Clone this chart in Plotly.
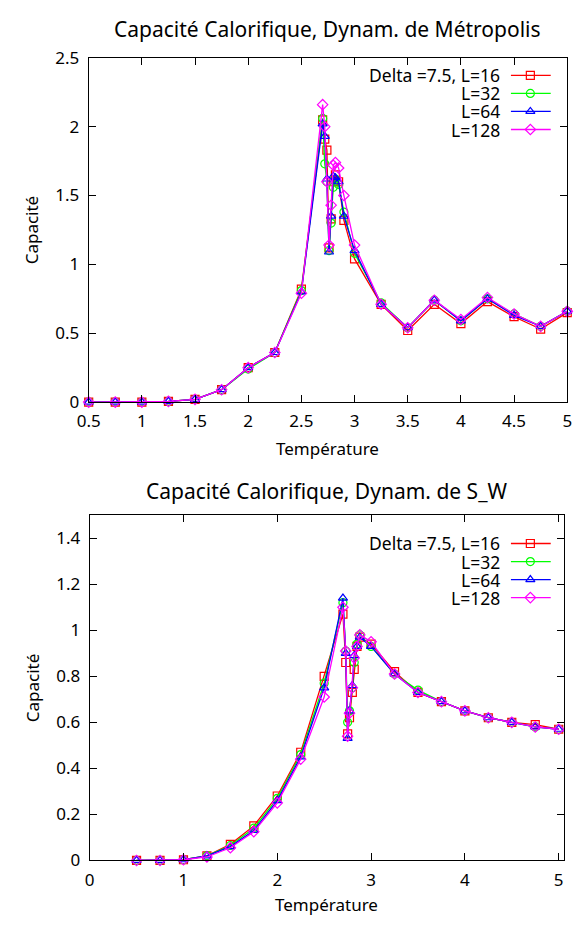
import plotly.graph_objects as go

W, H = 580, 928
FONT = "Noto Sans"

# ---------------- data: Metropolis dynamics (top panel) ----------------
T_met = [0.5, 0.75, 1.0, 1.25, 1.5, 1.75, 2.0, 2.25, 2.5,
         2.7, 2.72, 2.74, 2.76, 2.78, 2.8, 2.82, 2.85, 2.9, 3.0,
         3.25, 3.5, 3.75, 4.0, 4.25, 4.5, 4.75, 5.0]
met_L16 = [0, 0, 0, 0.005, 0.02, 0.09, 0.25, 0.36, 0.82,
           2.05, 1.91, 1.83, 1.12, 1.33, 1.60, 1.65, 1.60, 1.32, 1.04,
           0.71, 0.52, 0.71, 0.57, 0.73, 0.62, 0.53, 0.65]
met_L32 = [0, 0, 0, 0.005, 0.02, 0.09, 0.24, 0.36, 0.81,
           2.06, 1.73, 1.60, 1.10, 1.30, 1.56, 1.62, 1.58, 1.38, 1.08,
           0.72, 0.54, 0.74, 0.59, 0.75, 0.64, 0.55, 0.66]
met_L64 = [0, 0, 0, 0.005, 0.02, 0.09, 0.25, 0.36, 0.80,
           2.02, 1.93, 1.62, 1.09, 1.35, 1.64, 1.63, 1.60, 1.35, 1.10,
           0.71, 0.54, 0.74, 0.59, 0.75, 0.63, 0.55, 0.66]
met_L128 = [0, 0, 0, 0.005, 0.02, 0.09, 0.25, 0.36, 0.79,
            2.16, 2.00, 1.60, 1.14, 1.43, 1.72, 1.74, 1.70, 1.50, 1.14,
            0.71, 0.54, 0.74, 0.60, 0.76, 0.64, 0.55, 0.66]

# ---------------- data: Swendsen-Wang dynamics (bottom panel) ----------------
T_sw = [0.5, 0.75, 1.0, 1.25, 1.5, 1.75, 2.0, 2.25, 2.5,
        2.7, 2.73, 2.75, 2.77, 2.8, 2.82, 2.85, 2.88, 3.0,
        3.25, 3.5, 3.75, 4.0, 4.25, 4.5, 4.75, 5.0]
sw_L16 = [0, 0, 0.003, 0.02, 0.07, 0.15, 0.28, 0.47, 0.80,
          1.07, 0.86, 0.55, 0.62, 0.73, 0.83, 0.93, 0.97, 0.94,
          0.82, 0.73, 0.69, 0.65, 0.62, 0.60, 0.59, 0.57]
sw_L32 = [0, 0, 0.003, 0.02, 0.065, 0.14, 0.27, 0.46, 0.77,
          1.12, 0.91, 0.60, 0.65, 0.75, 0.86, 0.94, 0.98, 0.93,
          0.81, 0.74, 0.69, 0.65, 0.62, 0.60, 0.58, 0.57]
sw_L64 = [0, 0, 0.003, 0.02, 0.06, 0.13, 0.26, 0.45, 0.75,
          1.14, 0.90, 0.53, 0.65, 0.76, 0.89, 0.93, 0.97, 0.93,
          0.81, 0.73, 0.69, 0.65, 0.62, 0.60, 0.58, 0.57]
sw_L128 = [0, 0, 0.003, 0.015, 0.055, 0.125, 0.25, 0.44, 0.71,
           1.10, 0.91, 0.54, 0.64, 0.75, 0.88, 0.93, 0.98, 0.95,
           0.81, 0.73, 0.69, 0.65, 0.62, 0.60, 0.58, 0.57]

series_names = ["Delta =7.5, L=16", "L=32", "L=64", "L=128"]
colors = ["rgb(255,0,0)", "rgb(0,255,0)", "rgb(0,0,255)", "rgb(255,0,255)"]
symbols = ["square-open", "circle-open", "triangle-up-open", "diamond-open"]

title_top = "Capacité Calorifique, Dynam. de Métropolis"
title_bot = "Capacité Calorifique, Dynam. de S_W"
xlabel = "Température"
ylabel = "Capacité"

# ---------------- layout geometry (pixels) ----------------
top_px = dict(l=79, r=572, t=47, b=400)
bot_px = dict(l=80, r=569, t=516, b=870)


def xd(p):
    return [p["l"] / W, p["r"] / W]


def yd(p):
    return [1 - p["b"] / H, 1 - p["t"] / H]


fig = go.Figure()

panels = [
    (T_met, [met_L16, met_L32, met_L64, met_L128], "x", "y"),
    (T_sw, [sw_L16, sw_L32, sw_L64, sw_L128], "x2", "y2"),
]
for T, ys, xa, ya in panels:
    for i, yv in enumerate(ys):
        fig.add_trace(go.Scatter(
            x=T, y=yv, mode="lines+markers", xaxis=xa, yaxis=ya,
            line=dict(color=colors[i], width=1.3),
            marker=dict(symbol=symbols[i], size=8, color=colors[i],
                        line=dict(width=1.2, color=colors[i])),
            showlegend=False, cliponaxis=False,
        ))

# ---------------- custom gnuplot-style legends ----------------
leg_text_right = 505
leg_line = (514, 555)
leg_mark = 534
leg_rows = {"top": [65, 83.5, 102, 120.5], "bot": [545, 563.5, 582, 600.5]}

annotations = []
for key, rows in leg_rows.items():
    for i, ry in enumerate(rows):
        fig.add_trace(go.Scatter(
            x=[leg_line[0], leg_line[1]], y=[ry, ry], mode="lines",
            xaxis="x3", yaxis="y3", line=dict(color=colors[i], width=1.3),
            showlegend=False, hoverinfo="skip"))
        fig.add_trace(go.Scatter(
            x=[leg_mark], y=[ry], mode="markers",
            xaxis="x3", yaxis="y3",
            marker=dict(symbol=symbols[i], size=8, color=colors[i],
                        line=dict(width=1.2, color=colors[i])),
            showlegend=False, hoverinfo="skip"))
        annotations.append(dict(
            x=leg_text_right / W, y=1 - ry / H, xref="paper", yref="paper",
            text=series_names[i], showarrow=False, xanchor="right",
            yanchor="middle", font=dict(family=FONT, size=17.5, color="black")))

# titles and axis labels
for title, p, ty, xly in [(title_top, top_px, 17, 448),
                          (title_bot, bot_px, 491, 915)]:
    cx = (p["l"] + p["r"]) / 2
    cy = (p["t"] + p["b"]) / 2
    annotations.append(dict(x=cx / W, y=1 - ty / H, xref="paper", yref="paper",
                            text=title, showarrow=False, xanchor="center",
                            yanchor="middle",
                            font=dict(family=FONT, size=21, color="black")))
    annotations.append(dict(x=cx / W, y=1 - xly / H, xref="paper", yref="paper",
                            text=xlabel, showarrow=False, xanchor="center",
                            yanchor="middle",
                            font=dict(family=FONT, size=17, color="black")))
    annotations.append(dict(x=21 / W, y=1 - cy / H, xref="paper", yref="paper",
                            text=ylabel, showarrow=False, textangle=-90,
                            xanchor="center", yanchor="middle",
                            font=dict(family=FONT, size=17, color="black")))

axis_common = dict(showline=True, linecolor="black", linewidth=1, mirror="allticks",
                   ticks="inside", ticklen=7, tickcolor="black", tickwidth=1,
                   showgrid=False, zeroline=False,
                   tickfont=dict(family=FONT, size=17, color="black"))

fig.update_layout(
    width=W, height=H, margin=dict(l=0, r=0, t=0, b=0),
    paper_bgcolor="white", plot_bgcolor="rgba(0,0,0,0)", showlegend=False,
    xaxis=dict(domain=xd(top_px), range=[0.5, 5], tick0=0.5, dtick=0.5,
               anchor="y", ticklabelstandoff=4, **axis_common),
    yaxis=dict(domain=yd(top_px), range=[0, 2.5], tick0=0, dtick=0.5,
               anchor="x", ticklabelstandoff=5, **axis_common),
    xaxis2=dict(domain=xd(bot_px), range=[0, 5.06], tick0=0, dtick=1,
                anchor="y2", ticklabelstandoff=4, **axis_common),
    yaxis2=dict(domain=yd(bot_px), range=[0, 1.5], tick0=0, dtick=0.2,
                anchor="x2", ticklabelstandoff=5, **axis_common),
    xaxis3=dict(domain=[0, 1], range=[0, W], visible=False, anchor="y3",
                fixedrange=True),
    yaxis3=dict(domain=[0, 1], range=[H, 0], visible=False, anchor="x3",
                fixedrange=True),
    annotations=annotations,
    font=dict(family=FONT, size=16, color="black"),
)

fig.write_html("out.html")
